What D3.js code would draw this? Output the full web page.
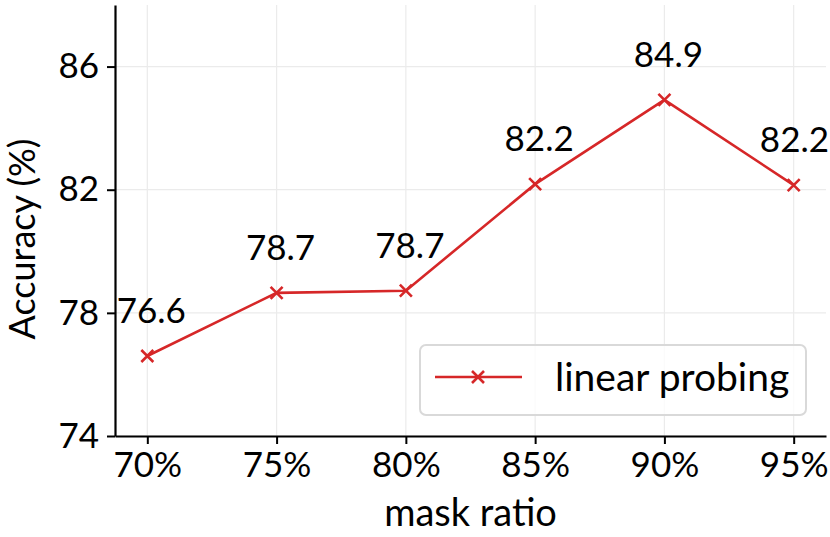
<!DOCTYPE html>
<html>
<head>
<meta charset="utf-8">
<script src="https://cdn.jsdelivr.net/npm/d3@7"></script>
<style>
  body { margin: 0; background: #fff; }
  svg text { font-family: Lato, "Open Sans", sans-serif; fill: #000; }
</style>
</head>
<body>
<div id="chart"></div>
<script>
var width = 830, height = 537;

// data
var ratios = ["70%", "75%", "80%", "85%", "90%", "95%"];
var accuracy = [76.6, 78.65, 78.72, 82.18, 84.92, 82.15];
var valueLabels = ["76.6", "78.7", "78.7", "82.2", "84.9", "82.2"];
var yTicks = [74, 78, 82, 86];
var seriesName = "linear probing";

var margin = {left: 115, right: 4, top: 5, bottom: 101};
var color = "#d62728";

var svg = d3.select("#chart").append("svg")
    .attr("width", width)
    .attr("height", height);

var x = d3.scaleLinear()
    .domain([-0.25, ratios.length - 1 + 0.25])
    .range([margin.left, width - margin.right]);

var y = d3.scaleLinear()
    .domain([74, 88])
    .range([height - margin.bottom, margin.top]);

// grid
svg.append("g")
    .selectAll("line.gy")
    .data(yTicks)
    .enter().append("line")
    .attr("x1", x.range()[0]).attr("x2", x.range()[1])
    .attr("y1", function(d) { return y(d); })
    .attr("y2", function(d) { return y(d); })
    .attr("stroke", "#ebebeb").attr("stroke-width", 1.2);

svg.append("g")
    .selectAll("line.gx")
    .data(ratios)
    .enter().append("line")
    .attr("x1", function(d, i) { return x(i); })
    .attr("x2", function(d, i) { return x(i); })
    .attr("y1", y.range()[0]).attr("y2", y.range()[1])
    .attr("stroke", "#ebebeb").attr("stroke-width", 1.2);

// axes
var xAxis = d3.axisBottom(x)
    .tickValues(d3.range(ratios.length))
    .tickFormat(function(i) { return ratios[i]; })
    .tickSize(8).tickPadding(8).tickSizeOuter(0);

var yAxis = d3.axisLeft(y)
    .tickValues(yTicks)
    .tickSize(8).tickPadding(8).tickSizeOuter(0);

var gx = svg.append("g")
    .attr("transform", "translate(0," + y.range()[0] + ")")
    .call(xAxis);
var gy = svg.append("g")
    .attr("transform", "translate(" + x.range()[0] + ",0)")
    .call(yAxis);

[gx, gy].forEach(function(g) {
    g.selectAll("path, line").attr("stroke", "#000").attr("stroke-width", 2);
    g.selectAll("text").style("font-size", "35px");
});
gx.select(".domain").attr("stroke-width", 2.2);
gy.select(".domain").attr("stroke-width", 2.2);

// line
var line = d3.line()
    .x(function(d, i) { return x(i); })
    .y(function(d) { return y(d); });

svg.append("path")
    .datum(accuracy)
    .attr("d", line)
    .attr("fill", "none")
    .attr("stroke", color)
    .attr("stroke-width", 2.6);

function cross(g, cx, cy, r) {
    g.append("path")
        .attr("d", "M" + (cx - r) + "," + (cy - r) + "L" + (cx + r) + "," + (cy + r) +
                   "M" + (cx - r) + "," + (cy + r) + "L" + (cx + r) + "," + (cy - r))
        .attr("stroke", color).attr("stroke-width", 2.6).attr("fill", "none");
}

var marks = svg.append("g");
accuracy.forEach(function(d, i) { cross(marks, x(i), y(d), 6); });

// value labels (keep the last one inside the page)
svg.append("g")
    .selectAll("text")
    .data(accuracy)
    .enter().append("text")
    .attr("y", function(d) { return y(d) - 33; })
    .attr("text-anchor", "middle")
    .style("font-size", "35px")
    .text(function(d, i) { return valueLabels[i]; })
    .attr("x", function(d, i) {
        var w = this.getComputedTextLength();
        return Math.min(x(i) + 4, width - w / 2 - 1);
    });

// axis titles
svg.append("text")
    .attr("x", x(2.5))
    .attr("y", 526)
    .attr("text-anchor", "middle")
    .style("font-size", "38px")
    .text("mask ratio");

svg.append("text")
    .attr("transform", "translate(35," + y(80.4) + ") rotate(-90)")
    .attr("text-anchor", "middle")
    .style("font-size", "36px")
    .text("Accuracy (%)");

// legend
var legend = svg.append("g").attr("transform", "translate(420,345)");
legend.append("rect")
    .attr("width", 386).attr("height", 70)
    .attr("rx", 6)
    .attr("fill", "#fff").attr("fill-opacity", 0.8)
    .attr("stroke", "#d9d9d9").attr("stroke-width", 2);
legend.append("line")
    .attr("x1", 15).attr("x2", 102).attr("y1", 32).attr("y2", 32)
    .attr("stroke", color).attr("stroke-width", 2.6);
cross(legend, 58, 32, 6);
legend.append("text")
    .attr("x", 135).attr("y", 46)
    .style("font-size", "39px")
    .text(seriesName);
</script>
</body>
</html>
